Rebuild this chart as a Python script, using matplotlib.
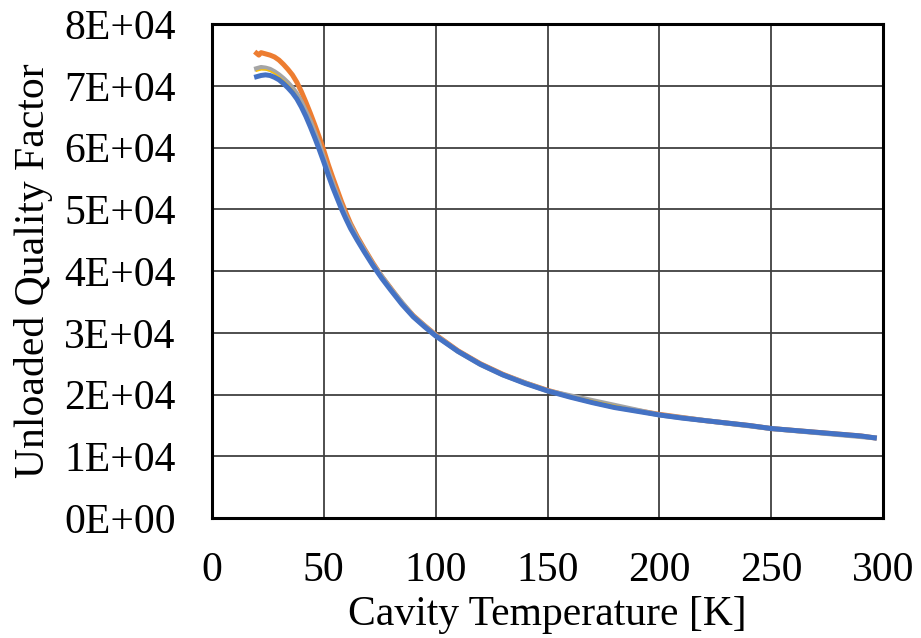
import matplotlib
matplotlib.use("Agg")
import matplotlib.pyplot as plt
from matplotlib.ticker import FuncFormatter

# --- datos ---
temp_blue = [20, 22, 24, 26, 28, 30, 32, 34, 36, 38, 40, 42, 44, 46, 48, 50,
             52, 54, 56, 58, 60, 62, 65, 68, 72, 76, 80, 85, 90, 95, 100,
             110, 120, 130, 140, 150, 160, 170, 180, 190, 200, 210, 220,
             230, 240, 250, 260, 270, 280, 290, 296]
q_blue = [71500, 71700, 71800, 71700, 71400, 71000, 70400, 69700, 68900, 67900,
          66600, 65100, 63400, 61600, 59700, 57700, 55600, 53600, 51800, 50000,
          48400, 46900, 45000, 43200, 40900, 38800, 36900, 34600, 32600, 31000,
          29500, 27000, 24900, 23200, 21800, 20600, 19600, 18700, 17900, 17300,
          16700, 16200, 15800, 15400, 15000, 14500, 14200, 13900, 13600, 13300,
          13000]

temp_orange = [20, 21, 22, 24, 26, 28, 30, 32, 34, 36, 38, 40, 42, 44, 46, 48,
               50, 52, 54, 56, 58, 60, 62, 65, 68, 72, 76, 80, 85, 90, 95, 100,
               110, 120, 130, 140, 150, 160, 170, 180, 190, 200, 210, 220,
               230, 240, 250, 260, 270, 280, 290, 296]
q_orange = [75300, 75000, 75400, 75200, 75000, 74700, 74200, 73500, 72700, 71800,
            70600, 69100, 67400, 65600, 63700, 61700, 59600, 57300, 55200, 53200,
            51200, 49400, 47700, 45600, 43700, 41300, 39100, 37200, 34800, 32800,
            31200, 29700, 27100, 25000, 23300, 21900, 20700, 19700, 18800, 18000,
            17400, 16800, 16300, 15800, 15400, 15000, 14500, 14200, 13900, 13600,
            13300, 13000]

temp_gray = [20, 22, 24, 26, 28, 30, 32, 34, 36, 38, 40, 44, 48, 52, 56, 60,
             65, 72, 80, 90, 100, 110, 120, 130, 150, 200, 250, 296]
q_gray = [72800, 73000, 72900, 72700, 72300, 71800, 71200, 70500, 69700, 68700,
          67400, 64300, 60500, 56200, 52300, 48800, 45300, 41100, 37100, 32700,
          29600, 27000, 24900, 23200, 20600, 16700, 14500, 13000]

temp_yellow = [20, 22, 24, 26, 28, 30, 32, 34, 36, 38, 40, 44, 48, 52, 56, 60,
               65, 72, 80, 90, 100, 110, 120, 130, 150, 200, 250, 296]
q_yellow = [72400, 72600, 72600, 72400, 72000, 71500, 70900, 70200, 69400, 68400,
            67100, 64000, 60200, 56000, 52100, 48600, 45200, 41000, 37000, 32700,
            29600, 27000, 24900, 23200, 20600, 16700, 14500, 13000]

x_ticks = [0, 50, 100, 150, 200, 250, 300]
y_ticks = [0, 10000, 20000, 30000, 40000, 50000, 60000, 70000, 80000]

plt.rcParams['font.family'] = ['Liberation Serif', 'DejaVu Serif']
FS = 30

fig = plt.figure(figsize=(9.21, 6.38), dpi=100)
ax = fig.add_axes([0.230, 0.188, 0.729, 0.774])

lw = 3.6
ax.plot(temp_orange, q_orange, color='#ED7D31', lw=lw, zorder=3)
ax.plot(temp_gray, q_gray, color='#A5A5A5', lw=lw, zorder=4)
ax.plot(temp_yellow, q_yellow, color='#FFC000', lw=1.0, zorder=4.5)
ax.plot(temp_blue, q_blue, color='#4472C4', lw=lw, zorder=5)

ax.set_xlim(0, 300)
ax.set_ylim(0, 80000)
ax.set_xticks(x_ticks)
ax.set_yticks(y_ticks)

def sci_fmt(v, pos):
    if v == 0:
        return "0E+00"
    exp = len(str(int(v))) - 1
    return f"{int(v / 10**exp)}E+{exp:02d}"

ax.yaxis.set_major_formatter(FuncFormatter(sci_fmt))
ax.tick_params(axis='both', length=0, labelsize=FS)
ax.tick_params(axis='y', pad=26)
ax.tick_params(axis='x', pad=24)

ax.grid(True, color='#404040', lw=1.3)
ax.set_axisbelow(True)
for s in ax.spines.values():
    s.set_color('black')
    s.set_linewidth(2.2)
    s.set_zorder(6)

ax.set_xlabel('Cavity Temperature [K]', fontsize=FS, labelpad=4)
ax.set_ylabel('Unloaded Quality Factor', fontsize=FS, labelpad=8)

fig.savefig('out.png', dpi=100)
